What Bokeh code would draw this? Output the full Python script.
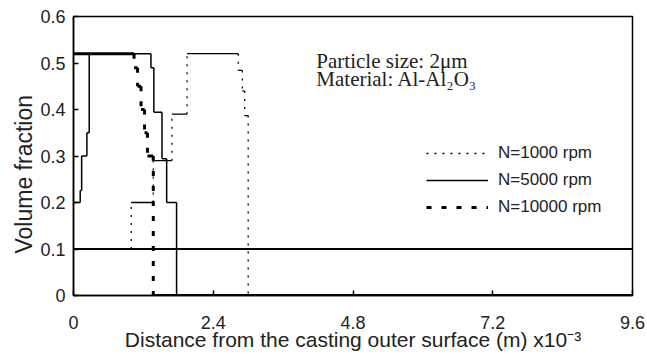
from bokeh.plotting import figure
from bokeh.models import (Range1d, FixedTicker, Legend, LegendItem, Label, Span, Title)
from bokeh.embed import file_html
from bokeh.resources import INLINE

# ---- data (step profiles: breakpoints along x and the level held on each interval) ----
x_ticks = [0, 2.4, 4.8, 7.2, 9.6]
x_tick_labels = ["0", "2.4", "4.8", "7.2", "9.6"]
y_ticks = [0, 0.1, 0.2, 0.3, 0.4, 0.5, 0.6]
y_tick_labels = ["0", "0.1", "0.2", "0.3", "0.4", "0.5", "0.6"]

initial_fraction = 0.1

n1000_edges = [0, 0.99, 1.37, 1.69, 1.95, 2.83, 2.90, 2.94, 3.00, 9.6]
n1000_levels = [0.10, 0.20, 0.29, 0.39, 0.52, 0.484, 0.44, 0.387, 0.0]

n5000_edges = [0, 0.115, 0.14, 0.23, 0.27, 1.33, 1.38, 1.52, 1.60, 1.77, 9.6]
n5000_levels = [0.20, 0.226, 0.30, 0.35, 0.52, 0.49, 0.394, 0.294, 0.20, 0.0]

n10000_edges = [0, 1.04, 1.10, 1.16, 1.22, 1.27, 1.37, 9.6]
n10000_levels = [0.52, 0.49, 0.45, 0.40, 0.35, 0.30, 0.0]

series_labels = ["N=1000 rpm", "N=5000 rpm", "N=10000 rpm"]

FONT = "Liberation Sans"

p = figure(width=645, height=362, output_backend="svg", toolbar_location=None,
           x_range=Range1d(0, 9.6), y_range=Range1d(0, 0.6),
           min_border_left=73, min_border_right=13, min_border_top=16, min_border_bottom=67)
p.xgrid.visible = False
p.ygrid.visible = False
p.outline_line_color = "black"
p.outline_line_width = 1.5
p.background_fill_color = "white"
p.border_fill_color = "white"

for ax in (p.xaxis[0], p.yaxis[0]):
    ax.major_tick_in = 5
    ax.major_tick_out = 0
    ax.minor_tick_line_color = None
    ax.axis_line_width = 1.5
    ax.major_tick_line_width = 1.5
    ax.major_label_text_font = FONT
    ax.major_label_text_font_size = "18px"
    ax.major_label_text_color = "#222222"
    ax.axis_label_text_font = FONT
    ax.axis_label_text_font_style = "normal"
    ax.axis_label_text_font_size = "21px"
    ax.axis_label_text_color = "#222222"

p.xaxis.ticker = FixedTicker(ticks=x_ticks)
p.xaxis.major_label_overrides = {t: s for t, s in zip(x_ticks, x_tick_labels)}
p.yaxis.ticker = FixedTicker(ticks=y_ticks)
p.yaxis.major_label_overrides = {t: s for t, s in zip(y_ticks, y_tick_labels)}
p.xaxis.axis_label = "Distance from the casting outer surface (m) x10\u207b\u00b3"
p.xaxis.major_label_standoff = 20
p.xaxis.axis_label_standoff = -4
p.yaxis.major_label_standoff = 8

# y-axis title, sitting a little below the frame centre as in the original
p.add_layout(Title(text="Volume fraction", align="left", offset=42, standoff=2,
                   text_font=FONT, text_font_size="23px", text_font_style="normal",
                   text_color="#222222"), "left")

p.add_layout(Span(location=initial_fraction, dimension="width",
                  line_color="black", line_width=2))


def draw_steps(edges, levels, width, dash):
    # horizontal runs
    p.segment(x0=edges[:-1], y0=levels, x1=edges[1:], y1=levels,
              line_color="black", line_width=width)
    # vertical jumps
    r = p.segment(x0=edges[1:-1], y0=levels[:-1], x1=edges[1:-1], y1=levels[1:],
                  line_color="black", line_width=width, line_dash=dash)
    return r


r1 = draw_steps(n1000_edges, n1000_levels, 1.3, "2 6")
r2 = draw_steps(n5000_edges, n5000_levels, 1.5, "solid")
r3 = draw_steps(n10000_edges, n10000_levels, 3, "5 10")

legend = Legend(items=[LegendItem(label=series_labels[0], renderers=[r1]),
                       LegendItem(label=series_labels[1], renderers=[r2]),
                       LegendItem(label=series_labels[2], renderers=[r3])],
                location=(353, 77), orientation="vertical",
                background_fill_alpha=0, border_line_color=None,
                glyph_width=62, glyph_height=22, label_height=22, spacing=5,
                padding=0, margin=0, label_standoff=10,
                label_text_font=FONT, label_text_font_size="17px",
                label_text_color="#222222")
p.add_layout(legend, "center")

p.add_layout(Label(x=4.17, y=0.505, text="Particle size: 2\u03bcm", text_baseline="middle",
                   text_font="Liberation Serif", text_font_size="21px", text_color="#222222"))
p.add_layout(Label(x=4.17, y=0.465, text="Material: Al-Al\u2082O\u2083", text_baseline="middle",
                   text_font="Liberation Serif", text_font_size="21px", text_color="#222222"))

open("out.html", "w").write(file_html(p, INLINE))
